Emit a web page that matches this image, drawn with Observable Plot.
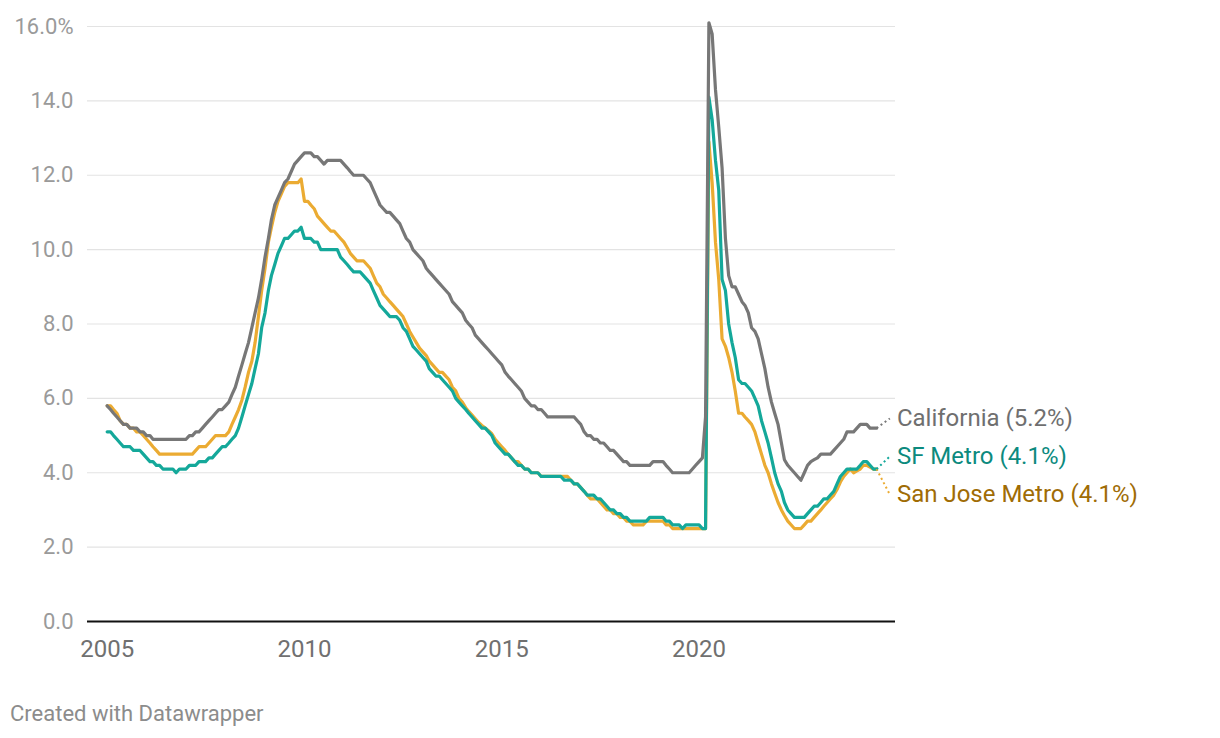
<!DOCTYPE html>
<html><head><meta charset="utf-8">
<script src="https://cdn.jsdelivr.net/npm/d3@7"></script>
<script src="https://cdn.jsdelivr.net/npm/@observablehq/plot@0.6"></script>
<style>
body{margin:0;background:#fff;font-family:Roboto,sans-serif;}
#chart{position:relative;width:1220px;height:738px;background:#fff;}
#chart svg{display:block;}
#footer{position:absolute;left:10px;top:701px;font-size:22px;color:#8c8c8c;font-family:Roboto,sans-serif;}
</style></head><body><div id="chart"><div id="footer">Created with Datawrapper</div></div><script>
// Monthly unemployment rate (%), Jan 2005 onward
const startYear = 2005;
const california = [
5.8,5.7,5.6,5.5,5.4,5.3,5.3,5.2,5.2,5.2,5.1,5.1,
5.0,5.0,4.9,4.9,4.9,4.9,4.9,4.9,4.9,4.9,4.9,4.9,
4.9,5.0,5.0,5.1,5.1,5.2,5.3,5.4,5.5,5.6,5.7,5.7,
5.8,5.9,6.1,6.3,6.6,6.9,7.2,7.5,7.9,8.3,8.7,9.2,
9.8,10.3,10.8,11.2,11.4,11.6,11.8,11.9,12.1,12.3,12.4,12.5,
12.6,12.6,12.6,12.5,12.5,12.4,12.3,12.4,12.4,12.4,12.4,12.4,
12.3,12.2,12.1,12.0,12.0,12.0,12.0,11.9,11.8,11.6,11.4,11.2,
11.1,11.0,11.0,10.9,10.8,10.7,10.5,10.3,10.2,10.0,9.9,9.8,
9.7,9.5,9.4,9.3,9.2,9.1,9.0,8.9,8.8,8.6,8.5,8.4,
8.3,8.1,8.0,7.9,7.7,7.6,7.5,7.4,7.3,7.2,7.1,7.0,
6.9,6.7,6.6,6.5,6.4,6.3,6.2,6.0,5.9,5.8,5.8,5.7,
5.7,5.6,5.5,5.5,5.5,5.5,5.5,5.5,5.5,5.5,5.5,5.4,
5.3,5.1,5.0,5.0,4.9,4.9,4.8,4.8,4.7,4.6,4.6,4.5,
4.4,4.3,4.3,4.2,4.2,4.2,4.2,4.2,4.2,4.2,4.3,4.3,
4.3,4.3,4.2,4.1,4.0,4.0,4.0,4.0,4.0,4.0,4.1,4.2,
4.3,4.4,5.5,16.1,15.8,14.3,13.3,12.2,10.3,9.3,9.0,9.0,
8.8,8.6,8.5,8.3,7.9,7.8,7.6,7.2,6.8,6.3,5.9,5.6,
5.3,4.8,4.35,4.2,4.1,4.0,3.9,3.8,4.0,4.2,4.3,4.35,
4.4,4.5,4.5,4.5,4.5,4.6,4.7,4.8,4.9,5.1,5.1,5.1,
5.2,5.3,5.3,5.3,5.2,5.2,5.2
];
const sfMetro = [
5.1,5.1,5.0,4.9,4.8,4.7,4.7,4.7,4.6,4.6,4.6,4.5,
4.4,4.3,4.3,4.2,4.2,4.1,4.1,4.1,4.1,4.0,4.1,4.1,
4.1,4.2,4.2,4.2,4.3,4.3,4.3,4.4,4.4,4.5,4.6,4.7,
4.7,4.8,4.9,5.0,5.2,5.5,5.8,6.1,6.4,6.8,7.2,7.9,
8.3,8.9,9.3,9.6,9.9,10.1,10.3,10.3,10.4,10.5,10.5,10.6,
10.3,10.3,10.3,10.2,10.2,10.0,10.0,10.0,10.0,10.0,10.0,9.8,
9.7,9.6,9.5,9.4,9.4,9.4,9.3,9.2,9.1,8.9,8.7,8.5,
8.4,8.3,8.2,8.2,8.2,8.1,7.9,7.8,7.6,7.4,7.3,7.2,
7.1,7.0,6.8,6.7,6.6,6.6,6.5,6.4,6.3,6.2,6.0,5.9,
5.8,5.7,5.6,5.5,5.4,5.3,5.2,5.2,5.1,5.0,4.8,4.7,
4.6,4.5,4.5,4.4,4.3,4.2,4.2,4.1,4.1,4.0,4.0,4.0,
3.9,3.9,3.9,3.9,3.9,3.9,3.9,3.8,3.8,3.8,3.7,3.7,
3.6,3.5,3.4,3.4,3.4,3.3,3.3,3.2,3.1,3.0,3.0,2.9,
2.9,2.8,2.8,2.7,2.7,2.7,2.7,2.7,2.7,2.8,2.8,2.8,
2.8,2.8,2.7,2.7,2.6,2.6,2.6,2.5,2.6,2.6,2.6,2.6,
2.6,2.5,2.5,14.1,13.5,12.4,11.6,9.2,8.9,8.0,7.5,7.1,
6.5,6.4,6.4,6.3,6.2,6.0,5.8,5.4,5.1,4.8,4.4,4.0,
3.7,3.5,3.2,3.0,2.9,2.8,2.8,2.8,2.8,2.9,3.0,3.1,
3.1,3.2,3.3,3.3,3.4,3.5,3.7,3.9,4.0,4.1,4.1,4.1,
4.1,4.2,4.3,4.3,4.2,4.1,4.1
];
const sanJose = [
5.8,5.8,5.7,5.6,5.4,5.3,5.3,5.2,5.2,5.1,5.1,5.0,
4.9,4.8,4.7,4.6,4.5,4.5,4.5,4.5,4.5,4.5,4.5,4.5,
4.5,4.5,4.5,4.6,4.7,4.7,4.7,4.8,4.9,5.0,5.0,5.0,
5.0,5.1,5.3,5.5,5.7,5.95,6.3,6.7,7.0,7.5,8.2,8.9,
9.5,10.2,10.6,11.0,11.3,11.5,11.7,11.8,11.8,11.8,11.8,11.9,
11.3,11.3,11.2,11.1,10.9,10.8,10.7,10.6,10.5,10.5,10.4,10.3,
10.2,10.05,9.9,9.8,9.7,9.7,9.7,9.6,9.5,9.3,9.1,9.0,
8.8,8.7,8.6,8.5,8.4,8.3,8.2,8.0,7.8,7.65,7.5,7.35,
7.25,7.15,7.0,6.9,6.8,6.7,6.7,6.6,6.5,6.3,6.2,6.0,
5.9,5.75,5.65,5.55,5.45,5.35,5.27,5.2,5.13,5.05,4.9,4.8,
4.7,4.6,4.5,4.4,4.3,4.3,4.2,4.1,4.1,4.0,4.0,4.0,
3.9,3.9,3.9,3.9,3.9,3.9,3.9,3.9,3.9,3.8,3.7,3.7,
3.6,3.5,3.4,3.3,3.3,3.3,3.2,3.1,3.0,3.0,2.9,2.9,
2.8,2.8,2.7,2.7,2.6,2.6,2.6,2.6,2.7,2.7,2.7,2.7,
2.7,2.7,2.6,2.6,2.5,2.5,2.5,2.5,2.5,2.5,2.5,2.5,
2.5,2.5,2.5,12.9,11.8,10.2,9.2,7.6,7.4,7.1,6.7,6.2,
5.6,5.6,5.5,5.4,5.3,5.1,4.8,4.5,4.2,4.0,3.7,3.45,
3.2,3.0,2.85,2.7,2.6,2.5,2.5,2.5,2.6,2.7,2.7,2.8,
2.9,3.0,3.1,3.2,3.3,3.4,3.55,3.75,3.9,4.0,4.1,4.0,
4.05,4.1,4.2,4.2,4.15,4.1,4.1
];
const seriesNames = ["San Jose Metro", "SF Metro", "California"];
const seriesValues = [sanJose, sfMetro, california];
const lineColors = ["#ebab32", "#14a89a", "#777777"];
const labelColors = ["#a06c05", "#0c8a7e", "#6f6f6f"];
const endLabels = ["San Jose Metro (4.1%)", "SF Metro (4.1%)", "California (5.2%)"];
const labelLevels = [3.41, 4.44, 5.46]; // where each end label sits, in %
const yTicks = [0, 2, 4, 6, 8, 10, 12, 14, 16];
const xTickYears = [2005, 2010, 2015, 2020];

const dateOf = i => new Date(Date.UTC(startYear, i, 1));
const labelDate = new Date(Date.UTC(2024, 10, 1));

const marks = [
  Plot.ruleY(yTicks.filter(d => d > 0), {stroke: "#e3e3e3", strokeWidth: 1.2}),
  Plot.axisY(yTicks, {tickSize: 0, tickPadding: 14, label: null, color: "#9a9a9a", fontSize: 22,
    tickFormat: d => d === 16 ? "16.0%" : d.toFixed(1)}),
  Plot.axisX(xTickYears.map(y => new Date(Date.UTC(y, 0, 1))), {tickSize: 0, tickPadding: 18, label: null,
    color: "#707070", fontSize: 24, tickFormat: d3.utcFormat("%Y")})
];
seriesValues.forEach((vals, k) => {
  const rows = vals.map((v, i) => ({date: dateOf(i), value: v}));
  marks.push(Plot.line(rows, {x: "date", y: "value", stroke: lineColors[k], strokeWidth: 3.2,
    strokeLinejoin: "round", strokeLinecap: "round"}));
});
marks.push(Plot.ruleY([0], {stroke: "#111", strokeWidth: 2}));
seriesValues.forEach((vals, k) => {
  const last = vals.length - 1;
  marks.push(Plot.link([0], {x1: () => dateOf(last), y1: () => vals[last], x2: () => labelDate, y2: () => labelLevels[k],
    stroke: lineColors[k], strokeWidth: 2, strokeDasharray: "2,3"}));
  marks.push(Plot.text([endLabels[k]], {x: () => labelDate, y: () => labelLevels[k], text: d => d,
    textAnchor: "start", dx: 7, fill: labelColors[k], fontSize: 24}));
});

const chart = Plot.plot({
  width: 1220, height: 680,
  marginLeft: 87, marginRight: 325, marginTop: 26, marginBottom: 59,
  style: {fontFamily: "Roboto, sans-serif", fontSize: "22px", background: "white", overflow: "visible"},
  x: {type: "utc", domain: [new Date(Date.UTC(2004, 6, 3)), new Date(Date.UTC(2024, 11, 23))]},
  y: {domain: [0, 16]},
  marks
});
document.getElementById("chart").prepend(chart);
</script></body></html>
